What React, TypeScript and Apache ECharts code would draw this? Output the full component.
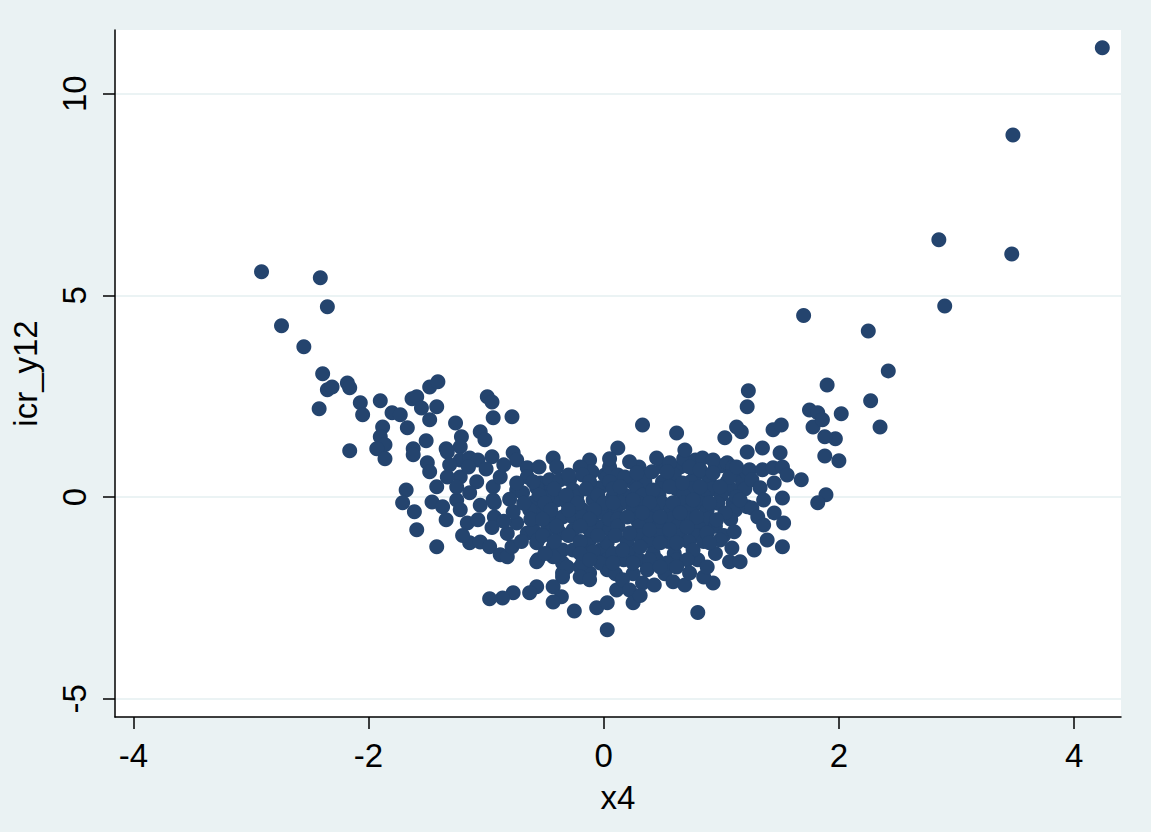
import React, { useEffect, useRef } from "react";
import * as echarts from "echarts";

// Axis ticks
const xTicks = [-4, -2, 0, 2, 4];
const yTicks = [-5, 0, 5, 10];

// Points [x4, icr_y12], grouped by region
const rightTail: [number, number][] = [
  [4.24, 11.14], [3.48, 8.98], [2.85, 6.38], [3.47, 6.03], [2.9, 4.74], [2.25, 4.12],
  [2.42, 3.13], [2.27, 2.39], [2.35, 1.74], [1.7, 4.5], [1.9, 2.78], [2.02, 2.07],
  [1.97, 1.45], [2.0, 0.9], [1.89, 0.06], [1.82, -0.14], [1.75, 2.16], [1.82, 2.09],
  [1.78, 1.74], [1.86, 1.92], [1.88, 1.5], [1.88, 1.02], [1.68, 0.43],
];

const leftTail: [number, number][] = [
  [-2.91, 5.59], [-2.41, 5.44], [-2.35, 4.72], [-2.74, 4.25], [-2.55, 3.73], [-2.39, 3.06],
  [-2.35, 2.66], [-2.31, 2.73], [-2.42, 2.19], [-2.18, 2.83], [-2.16, 2.71], [-2.07, 2.34],
  [-2.05, 2.04], [-2.16, 1.15], [-1.9, 2.39], [-1.8, 2.09], [-1.73, 2.04], [-1.88, 1.74],
  [-1.9, 1.5], [-1.86, 1.3], [-1.67, 1.72], [-1.63, 2.44], [-1.59, 2.49], [-1.55, 2.21],
  [-1.48, 2.73], [-1.41, 2.86], [-1.42, 2.24], [-1.48, 1.92], [-1.51, 1.4], [-1.26, 1.84],
  [-1.21, 1.5], [-1.05, 1.62], [-1.01, 1.42], [-0.99, 2.49], [-1.93, 1.2], [-1.62, 1.2],
  [-1.34, 1.2], [-1.22, 1.25], [-0.95, 2.36], [-0.94, 1.97], [-0.78, 1.99], [-1.86, 0.95],
];

const leftCenter: [number, number][] = [
  [-1.62, 1.05], [-1.5, 0.85], [-1.48, 0.63], [-1.33, 1.12], [-1.22, 0.92], [-1.31, 0.8],
  [-1.14, 0.97], [-1.07, 0.92], [-0.95, 1.0], [-1.22, 0.5], [-1.08, 0.38], [-1.33, 0.5],
  [-1.42, 0.26], [-1.68, 0.18], [-1.71, -0.14], [-1.61, -0.36], [-1.46, -0.12], [-1.37, -0.24],
  [-1.25, -0.07], [-1.14, 0.11], [-1.22, -0.31], [-1.34, -0.56], [-1.16, -0.64], [-1.07, -0.56],
  [-1.59, -0.81], [-1.42, -1.23], [-1.14, -1.13], [-1.05, -1.11], [-0.97, -1.23], [-0.88, -1.43],
  [-0.82, -1.48], [-0.78, -1.23], [-0.94, 0.26], [-0.88, 0.5], [-0.93, -0.14], [-0.93, -0.49],
  [-0.77, 1.1], [-0.74, 0.92], [-0.65, 0.73], [-0.65, 0.5], [-0.74, 0.18], [-0.69, 0.11],
  [-0.6, -0.14], [-0.74, -0.64], [-0.65, -0.89], [-0.57, -1.13], [-0.56, -1.55],
  [-1.0, 0.7], [-0.85, 0.8], [-1.15, 0.75], [-0.95, -0.75], [-0.82, -0.9], [-1.2, -0.95],
  [-0.8, -0.05], [-1.05, -0.2], [-1.25, 0.25], [-0.85, -0.6],
];

const center: [number, number][] = [
  [-0.43, 0.97], [-0.4, 0.75], [-0.54, 0.35], [-0.46, 0.43], [-0.37, 0.43], [-0.29, 0.43],
  [-0.26, 0.18], [-0.48, 0.11], [-0.4, -0.07], [-0.31, -0.14], [-0.52, -0.39], [-0.43, -0.56],
  [-0.35, -0.49], [-0.26, -0.49], [-0.48, -0.81], [-0.37, -0.89], [-0.26, -0.81], [-0.43, -1.23],
  [-0.35, -1.31], [-0.26, -1.31], [-0.18, -1.23], [-0.35, -1.63], [-0.35, -1.88], [-0.2, -1.73],
  [-0.12, -1.88], [-0.12, 0.92], [-0.1, 0.63], [-0.03, 0.23], [0.01, 0.55], [-0.09, -0.07],
  [-0.01, -0.24], [-0.18, -0.31], [-0.09, -0.64], [-0.01, -0.74], [-0.12, -1.06], [-0.03, -1.31],
  [0.03, -1.55], [0.03, -1.8], [0.03, 0.5], [0.12, 1.22], [-0.74, 0.35], [-0.57, 0.23],
  [-0.48, 0.01], [-0.23, 0.01], [0.08, 0.01], [-0.94, -0.07], [-0.77, -0.36], [-0.63, -0.31],
  [-0.18, -0.49], [-0.01, -0.39], [-0.6, -0.81], [-0.12, -0.81], [0.05, -0.81], [-0.56, -1.06],
  [-0.09, -1.36], [0.03, -1.13], [-0.57, -1.6], [-0.43, -1.48], [-0.31, -1.73], [-0.18, -1.63],
  [-0.03, -1.63], [0.05, -1.8], [-0.35, -1.98], [-0.2, -1.98], [-0.12, -2.05], [0.11, -2.3],
];

const centerFill: [number, number][] = [
  [-0.55, 0.75], [-0.2, 0.75], [0.05, 0.75], [0.3, 0.75], [0.5, 0.75], [0.65, 0.75], [0.95, 0.75], [1.0, 0.78],
  [-0.3, 0.55], [-0.18, 0.55], [0.12, 0.55], [0.36, 0.55], [0.6, 0.55], [0.78, 0.55], [0.88, 0.55], [1.15, 0.55],
  [-0.6, 0.38], [-0.12, 0.38], [0.05, 0.38], [0.24, 0.38], [0.35, 0.38], [0.5, 0.38], [0.74, 0.38], [0.9, 0.38], [1.05, 0.38], [1.18, 0.38],
  [-0.42, 0.2], [-0.15, 0.2], [0.08, 0.2], [0.28, 0.2], [0.48, 0.2], [0.62, 0.2], [0.75, 0.2], [0.92, 0.2], [1.08, 0.2], [1.2, 0.2],
  [-0.55, 0.05], [-0.32, 0.05], [-0.05, 0.05], [0.18, 0.05], [0.33, 0.05], [0.47, 0.05], [0.68, 0.05], [0.85, 0.05], [1.0, 0.05],
  [-0.68, -0.15], [-0.5, -0.15], [-0.22, -0.15], [0.0, -0.15], [0.15, -0.15], [0.3, -0.15], [0.5, -0.15], [0.68, -0.15], [0.82, -0.15], [0.97, -0.15], [1.1, -0.15],
  [-0.45, -0.32], [-0.3, -0.32], [-0.08, -0.32], [0.1, -0.32], [0.25, -0.32], [0.42, -0.32], [0.57, -0.32], [0.73, -0.32], [0.88, -0.32], [1.12, -0.32],
  [-0.62, -0.55], [-0.52, -0.55], [-0.12, -0.55], [0.05, -0.55], [0.12, -0.55], [0.28, -0.55], [0.4, -0.55], [0.57, -0.55], [0.72, -0.55], [0.88, -0.55], [1.08, -0.55],
  [-0.4, -0.72], [-0.2, -0.72], [0.12, -0.72], [0.3, -0.72], [0.47, -0.72], [0.63, -0.72], [0.8, -0.72], [0.95, -0.72],
  [-0.52, -0.95], [-0.3, -0.95], [-0.05, -0.95], [0.1, -0.95], [0.3, -0.95], [0.47, -0.95], [0.65, -0.95], [0.78, -0.95], [1.02, -0.95],
  [-0.7, -1.1], [-0.42, -1.1], [-0.2, -1.1], [0.2, -1.1], [0.38, -1.1], [0.55, -1.1], [0.72, -1.1], [0.85, -1.1],
  [-0.5, -1.4], [-0.2, -1.4], [0.08, -1.4], [0.25, -1.4], [0.42, -1.4], [0.6, -1.4], [0.95, -1.4],
  [-0.12, -1.55], [0.17, -1.55], [0.3, -1.55], [0.45, -1.55], [0.62, -1.55], [0.8, -1.55],
  [0.1, -1.9], [0.25, -1.9], [0.52, -1.9], [0.05, 0.95], [0.68, 0.95], [0.78, 0.92],
];

const bottom: [number, number][] = [
  [-0.57, -2.22], [-0.63, -2.37], [-0.77, -2.37], [-0.86, -2.5], [-0.97, -2.52], [-0.43, -2.22],
  [-0.36, -2.47], [-0.43, -2.6], [-0.25, -2.82], [-0.06, -2.74], [0.03, -3.29], [0.03, -2.62],
  [0.16, -2.05], [0.22, -2.3], [0.25, -2.62], [0.33, -2.13], [0.43, -2.18], [0.59, -2.1],
  [0.69, -2.18], [0.8, -2.86], [0.93, -2.13], [0.85, -1.98], [0.31, -2.44],
];

const rightCenter: [number, number][] = [
  [0.22, 0.88], [0.45, 0.97], [0.56, 0.85], [0.62, 1.59], [0.69, 1.17], [0.84, 0.97],
  [0.93, 0.92], [1.03, 1.47], [1.17, 1.62], [1.22, 1.12], [1.05, 0.85], [1.1, 0.75],
  [0.18, 0.5], [0.28, 0.6], [0.41, 0.63], [0.54, 0.63], [0.73, 0.75], [0.82, 0.68],
  [0.93, 0.6], [1.07, 0.5], [1.22, 0.6], [0.14, 0.26], [0.42, 0.18], [0.56, 0.26],
  [0.67, 0.35], [0.82, 0.26], [0.99, 0.26], [1.13, 0.01], [1.22, -0.24], [0.08, -0.14],
  [0.25, -0.07], [0.39, -0.14], [0.59, -0.14], [0.76, -0.07], [0.9, -0.14], [1.03, -0.39],
  [0.2, -0.49], [0.33, -0.39], [0.48, -0.49], [0.65, -0.39], [0.79, -0.49], [0.96, -0.56],
  [0.22, -0.89], [0.39, -0.81], [0.56, -0.81], [0.71, -0.74], [0.88, -0.89], [0.99, -1.06],
  [1.11, -0.86], [0.16, -1.31], [0.31, -1.23], [0.48, -1.13], [0.62, -1.13], [0.76, -1.31],
  [0.9, -1.13], [1.09, -1.26], [0.08, -1.63], [0.25, -1.63], [0.39, -1.55], [0.54, -1.63],
  [0.71, -1.55], [1.07, -1.6], [1.16, -1.6], [0.37, -1.8], [0.48, -1.73], [0.62, -1.73],
  [0.73, -1.88], [0.88, -1.73], [0.33, 1.79], [1.13, 1.74], [1.44, 1.67], [1.51, 1.79],
  [1.35, 1.22], [1.5, 1.1], [1.13, 0.75], [1.24, 0.68], [1.35, 0.68], [1.44, 0.73],
  [1.52, 0.75], [1.56, 0.55], [1.26, 0.43], [1.33, 0.23], [1.45, 0.35], [1.52, -0.02],
  [1.36, -0.07], [1.16, -0.07], [1.26, -0.27], [1.31, -0.49], [1.45, -0.39], [1.53, -0.64],
  [1.36, -0.69], [1.28, -1.31], [1.39, -1.06], [1.52, -1.23], [1.23, 2.64], [1.22, 2.24],
];

const FONT = "'Liberation Sans', Arial, Helvetica, sans-serif";
const MARKER = "#24446e";

export default function App() {
  const ref = useRef<HTMLDivElement>(null);
  useEffect(() => {
    document.body.style.margin = "0";
    const chart = echarts.init(ref.current!, null, { renderer: "svg" });
    const data = [
      ...leftTail, ...leftCenter, ...center, ...centerFill, ...bottom, ...rightCenter, ...rightTail,
    ];
    chart.setOption({
      animation: false,
      backgroundColor: "#eaf2f3",
      grid: {
        left: 115, right: 30, top: 30, bottom: 115,
        show: true, backgroundColor: "#ffffff", borderWidth: 0,
      },
      xAxis: {
        type: "value", min: -4.156, max: 4.399,
        name: "x4", nameLocation: "middle", nameGap: 64,
        nameTextStyle: { fontSize: 33, color: "#000", fontFamily: FONT },
        axisLine: { show: true, onZero: false, lineStyle: { color: "#000", width: 1.5 } },
        axisTick: { show: true, length: 12, customValues: xTicks, lineStyle: { color: "#000", width: 1.5 } },
        axisLabel: { customValues: xTicks, fontSize: 33, color: "#000", margin: 22, fontFamily: FONT },
        splitLine: { show: false },
      },
      yAxis: {
        type: "value", min: -5.45, max: 11.58,
        name: "icr_y12", nameLocation: "middle", nameGap: 73, nameRotate: 90,
        nameTextStyle: { fontSize: 33, color: "#000", fontFamily: FONT },
        axisLine: { show: true, onZero: false, lineStyle: { color: "#000", width: 1.5 } },
        axisTick: { show: true, length: 12, customValues: yTicks, lineStyle: { color: "#000", width: 1.5 } },
        axisLabel: { customValues: yTicks, rotate: 90, fontSize: 33, color: "#000", margin: 24, fontFamily: FONT },
        splitLine: { show: true, lineStyle: { color: "#e4eff1", width: 1.5 } },
      },
      series: [
        {
          type: "scatter",
          data,
          symbol: "circle",
          symbolSize: 15,
          itemStyle: { color: MARKER, opacity: 1, borderWidth: 0 },
        },
      ],
    });
    return () => chart.dispose();
  }, []);
  return <div ref={ref} style={{ width: 1151, height: 832 }} />;
}
